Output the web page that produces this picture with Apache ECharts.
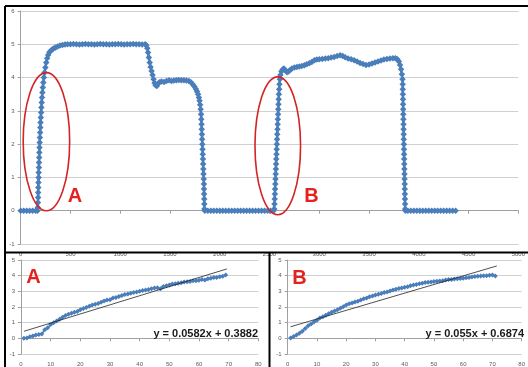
<!DOCTYPE html>
<html>
<head>
<meta charset="utf-8">
<script src="https://cdn.jsdelivr.net/npm/echarts@6/dist/echarts.min.js"></script>
<style>
html,body{margin:0;padding:0;background:#fff;}
#c{width:528px;height:367px;}
</style>
</head>
<body>
<div id="c"></div>
<script>
// ---- Data ----
// Top chart: sample index vs value
const topPoints = [
 [0,0],[30,0],[60,0],[90,0],[120,0],[150,0],[168,0],
 [172,0.1],[173,0.25],[175,0.4],[176,0.55],[177,0.7],[178,0.85],[180,1.0],[181,1.15],[183,1.3],[184,1.45],
 [186,1.6],[187,1.75],[189,1.9],[191,2.05],[193,2.2],[195,2.35],[197,2.5],[199,2.65],[202,2.8],[205,2.95],
 [208,3.1],[211,3.25],[214,3.4],[218,3.55],[222,3.7],[227,3.85],[233,4.0],[240,4.15],[248,4.3],[257,4.45],
 [266,4.58],[276,4.68],[288,4.76],[300,4.8],[315,4.84],[330,4.87],[350,4.9],[371,4.93],[395,4.96],[420,4.98],
 [445,4.99],[470,5.0],
 [500,5.0],[530,5.01],[560,5.0],[590,4.99],[620,5.0],[650,5.01],[680,5.0],[710,5.0],[740,4.99],[770,5.0],
 [800,5.01],[830,5.0],[860,5.0],[890,4.99],[920,5.0],[950,5.0],[980,5.01],[1010,5.0],[1040,4.99],[1070,5.0],
 [1100,5.0],[1130,5.01],[1160,5.0],[1190,5.0],[1220,4.99],[1250,5.0],
 [1262,4.97],[1272,4.88],[1280,4.75],[1288,4.6],[1296,4.45],[1305,4.32],[1315,4.2],[1325,4.08],[1335,3.95],
 [1345,3.84],[1355,3.77],[1368,3.75],[1380,3.82],[1395,3.86],[1415,3.88],[1440,3.87],[1465,3.9],[1490,3.92],
 [1515,3.9],[1540,3.91],[1565,3.92],[1590,3.93],[1615,3.92],[1640,3.92],[1665,3.91],[1690,3.9],[1710,3.86],
 [1728,3.8],[1745,3.73],[1760,3.66],[1772,3.58],[1782,3.5],[1790,3.4],[1797,3.3],[1803,3.18],[1808,3.05],
 [1812,2.9],[1815,2.75],[1817,2.6],[1819,2.45],[1821,2.3],[1823,2.15],[1825,2.0],[1827,1.85],[1829,1.7],
 [1831,1.55],[1833,1.4],[1835,1.25],[1837,1.1],[1839,0.95],[1841,0.8],[1842,0.65],[1843,0.5],[1844,0.35],
 [1845,0.2],[1846,0.05],[1850,0],
 [1880,0],[1910,0],[1940,0],[1970,0],[2000,0],[2030,0],[2060,0],[2090,0],[2120,0],[2150,0],[2180,0],[2210,0],
 [2240,0],[2270,0],[2300,0],[2330,0],[2360,0],[2390,0],[2420,0],[2450,0],[2480,0],[2510,0],[2540,0],
 [2548,0.05],[2550,0.2],[2552,0.35],[2554,0.5],[2556,0.65],[2558,0.8],[2560,0.95],[2562,1.1],[2564,1.25],
 [2566,1.4],[2568,1.55],[2570,1.7],[2572,1.85],[2574,2.0],[2576,2.15],[2578,2.3],[2580,2.45],[2582,2.6],
 [2584,2.75],[2586,2.9],[2588,3.05],[2590,3.2],[2592,3.35],[2594,3.5],[2597,3.65],[2600,3.8],[2604,3.95],
 [2610,4.08],[2620,4.18],[2632,4.24],[2645,4.27],[2660,4.22],[2675,4.16],[2690,4.18],[2705,4.22],[2725,4.27],
 [2750,4.3],[2775,4.32],[2800,4.33],[2825,4.35],[2850,4.37],[2875,4.4],[2900,4.43],[2925,4.47],[2950,4.52],
 [2975,4.54],[3000,4.55],[3030,4.56],[3060,4.57],[3090,4.58],[3120,4.6],[3150,4.62],[3180,4.65],[3210,4.67],
 [3235,4.65],[3260,4.61],[3290,4.57],[3320,4.55],[3350,4.52],[3380,4.48],[3410,4.44],[3440,4.41],[3470,4.38],
 [3500,4.39],[3530,4.42],[3560,4.45],[3590,4.48],[3620,4.51],[3650,4.54],[3680,4.56],[3710,4.57],[3740,4.58],
 [3765,4.58],[3785,4.55],[3800,4.48],[3812,4.38],[3822,4.25],[3830,4.1],[3836,3.95],
 [3838,3.8],[3839,3.65],[3840,3.5],[3841,3.35],[3842,3.2],[3843,3.05],[3844,2.9],[3845,2.75],[3846,2.6],
 [3847,2.45],[3848,2.3],[3849,2.15],[3850,2.0],[3851,1.85],[3852,1.7],[3853,1.55],[3854,1.4],[3855,1.25],
 [3856,1.1],[3857,0.95],[3858,0.8],[3859,0.65],[3860,0.5],[3861,0.35],[3862,0.2],[3863,0.05],[3866,0],
 [3890,0],[3920,0],[3950,0],[3980,0],[4010,0],[4040,0],[4070,0],[4100,0],[4130,0],[4160,0],[4190,0],[4220,0],
 [4250,0],[4280,0],[4310,0],[4340,0],[4370,0]
];

// Zoom A: samples 1..69
const aValues = [0.00,0.02,0.10,0.15,0.22,0.25,0.28,0.55,0.68,0.88,1.00,1.10,1.22,1.34,1.45,1.54,1.60,1.66,1.72,1.82,
 1.90,1.97,2.04,2.12,2.17,2.23,2.31,2.39,2.44,2.46,2.57,2.61,2.67,2.74,2.79,2.83,2.88,2.93,2.96,3.00,
 3.05,3.08,3.12,3.17,3.21,3.23,3.16,3.31,3.35,3.40,3.47,3.48,3.51,3.54,3.59,3.61,3.63,3.67,3.68,3.71,
 3.75,3.72,3.81,3.84,3.88,3.89,3.93,3.97,4.05];
// Zoom B: samples 1..71
const bValues = [0.02,0.12,0.22,0.33,0.46,0.62,0.80,0.92,1.05,1.15,1.30,1.38,1.48,1.57,1.66,1.74,1.83,1.92,2.02,2.12,
 2.20,2.26,2.32,2.37,2.44,2.52,2.58,2.65,2.71,2.76,2.82,2.86,2.92,2.96,3.02,3.08,3.13,3.18,3.22,3.26,
 3.30,3.35,3.40,3.44,3.48,3.52,3.56,3.58,3.60,3.62,3.64,3.66,3.68,3.72,3.75,3.76,3.78,3.80,3.82,3.84,
 3.86,3.88,3.92,3.95,3.96,3.98,3.99,4.00,4.02,4.04,3.98];
// Linear trend line end points
const trendA = [[1,0.45],[69.4,4.43]];
const trendB = [[1,0.74],[71.5,4.62]];
const eqA = 'y = 0.0582x + 0.3882';
const eqB = 'y = 0.055x + 0.6874';

// ---- Chart ----
const blue = '#4a7ebb';
const FONT = 'Liberation Sans';
const chart = echarts.init(document.getElementById('c'), null, {renderer:'canvas'});

function xAx(gi, max, interval){
  return {type:'value', gridIndex:gi, min:0, max:max, interval:interval,
    axisLine:{show:true, onZero:true, lineStyle:{color:'#a0a0a0', width:1}},
    axisTick:{show:true, length:3, lineStyle:{color:'#a0a0a0'}},
    axisLabel:{fontSize:6, color:'#595959', margin:7, fontFamily:FONT, showMaxLabel:true, showMinLabel:true,
      formatter:function(v){ return String(v); }},
    splitLine:{show:false}};
}
function yAx(gi, min, max){
  return {type:'value', gridIndex:gi, min:min, max:max, interval:1,
    axisLine:{show:true, onZero:false, lineStyle:{color:'#a0a0a0', width:1}},
    axisTick:{show:true, length:3, lineStyle:{color:'#a0a0a0'}},
    axisLabel:{fontSize:6, color:'#595959', margin:6, fontFamily:FONT,
      formatter:function(v){ return String(v); }},
    splitLine:{show:true, lineStyle:{color:'#d0d0d0', width:1}}};
}
function idxData(vals){ return vals.map((v,i)=>[i+1,v]); }

const option = {
  animation:false,
  backgroundColor:'#fff',
  grid:[
    {left:20.7, right:5, top:11, bottom:123},
    {left:21, right:269.7, top:260, bottom:3.7},
    {left:287.7, right:2.7, top:260, bottom:3.7}
  ],
  xAxis:[xAx(0,5000,500), xAx(1,80,10), xAx(2,80,10)],
  yAxis:[yAx(0,-1,6), yAx(1,-1,5), yAx(2,-1,5)],
  series:[
    {type:'line', xAxisIndex:0, yAxisIndex:0, data:topPoints, symbol:'diamond', symbolSize:6.5, showAllSymbol:true,
     lineStyle:{color:blue, width:2.5}, itemStyle:{color:blue}, z:3},
    {type:'line', xAxisIndex:1, yAxisIndex:1, data:idxData(aValues), symbol:'diamond', symbolSize:5, showAllSymbol:true,
     lineStyle:{color:blue, width:1.5}, itemStyle:{color:blue}, z:3},
    {type:'line', xAxisIndex:1, yAxisIndex:1, data:trendA, symbol:'none', lineStyle:{color:'#222', width:0.8}, z:4},
    {type:'line', xAxisIndex:2, yAxisIndex:2, data:idxData(bValues), symbol:'diamond', symbolSize:5, showAllSymbol:true,
     lineStyle:{color:blue, width:1.5}, itemStyle:{color:blue}, z:3},
    {type:'line', xAxisIndex:2, yAxisIndex:2, data:trendB, symbol:'none', lineStyle:{color:'#222', width:0.8}, z:4}
  ]
};
chart.setOption(option);

// Annotations (ellipses positioned in data coordinates)
function px(gi, pt){ return chart.convertToPixel({xAxisIndex:gi, yAxisIndex:gi}, pt); }
function ellipse(x0,x1,y0,y1){
  const p0 = px(0,[x0,y0]), p1 = px(0,[x1,y1]);
  return {type:'ellipse', shape:{cx:(p0[0]+p1[0])/2, cy:(p0[1]+p1[1])/2, rx:Math.abs(p1[0]-p0[0])/2, ry:Math.abs(p1[1]-p0[1])/2},
    style:{fill:null, stroke:'#d42424', lineWidth:1.6}, z:10};
}
const red = '#e42320';
function lbl(x,y,t){ return {type:'text', x:x, y:y, style:{text:t, fill:red, font:'bold 20px "Liberation Sans"', textAlign:'center', textVerticalAlign:'middle'}, z:10}; }
function eq(x,y,t){ return {type:'text', x:x, y:y, style:{text:t, fill:'#1a1a1a', font:'bold 11px "Liberation Sans"', textAlign:'right', textVerticalAlign:'middle'}, z:10}; }
function ln(x1,y1,x2,y2){ return {type:'line', shape:{x1:x1,y1:y1,x2:x2,y2:y2}, style:{stroke:'#000', lineWidth:2}, z:20}; }

chart.setOption({graphic:[
  ellipse(25,492,0.0,4.15),
  ellipse(2354,2812,-0.12,4.02),
  lbl(75,196,'A'), lbl(311.5,196,'B'),
  lbl(33.5,277.5,'A'), lbl(299.5,278,'B'),
  eq(258,334,eqA), eq(524,334,eqB),
  ln(5,6,528,6), ln(5,6,5,367), ln(5,252.5,528,252.5), ln(269.5,252.5,269.5,367)
]});
</script>
</body>
</html>
